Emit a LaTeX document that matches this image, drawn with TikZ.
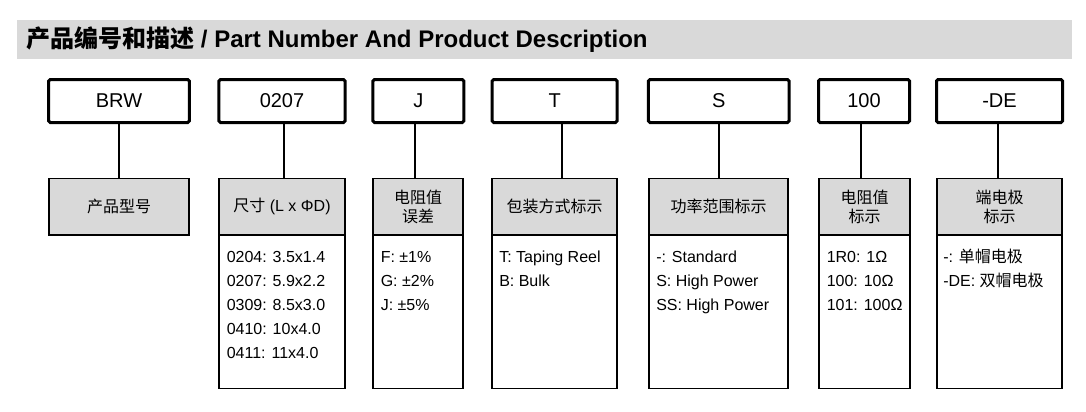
\documentclass[tikz,border=0pt]{standalone}
\usepackage{fontspec}
\setmainfont{Liberation Sans}
\newfontfamily\cjk{Noto Sans CJK SC}
\definecolor{boxgray}{HTML}{D9D9D9}
\begin{document}
\begin{tikzpicture}[x=0.75pt,y=-0.75pt,
  codebox/.style={draw=black,line width=2.25pt,rounded corners=1.2pt,minimum height=32.25pt,inner sep=0pt,font=\fontsize{15}{18}\selectfont},
  headbox/.style={draw=black,fill=boxgray,line width=1.4pt,minimum height=42.4pt,inner sep=0pt,align=center,font=\fontsize{12}{14}\selectfont},
  descbox/.style={draw=black,line width=1.4pt,minimum height=115.1pt,inner sep=0pt},
  desctext/.style={anchor=base west,inner sep=0pt,font=\fontsize{12}{18}\selectfont},
  link/.style={draw=black,line width=1.4pt}]
\useasboundingbox (0,0) rectangle (1086,411);
% header
\node[fill=boxgray,minimum width=791.25pt,minimum height=29.25pt,inner sep=0pt] (bar) at (544.5,39.5) {};
\node[anchor=base west,inner sep=0pt,font=\fontsize{18}{22}\selectfont\bfseries] (title) at (26,47) {{\cjk\bfseries 产品编号和描述} / Part Number And Product Description};
% top code boxes
\node[codebox,minimum width=105.5pt] (c1) at (119,101) {BRW};
\node[codebox,minimum width=94.65pt] (c2) at (282,101) {0207};
\node[codebox,minimum width=68.25pt] (c3) at (418.3,101) {J};
\node[codebox,minimum width=93.75pt] (c4) at (554.7,101) {T};
\node[codebox,minimum width=105.5pt] (c5) at (718.8,101) {S};
\node[codebox,minimum width=68.25pt] (c6) at (864,101) {100};
\node[codebox,minimum width=94.5pt] (c7) at (999.5,101) {-DE};
% gray heading boxes
\node[headbox,minimum width=105pt] (h1) at (119,206.75) {{\cjk 产品型号}};
\node[headbox,minimum width=94.5pt] (h2) at (282,206.75) {{\cjk 尺寸} (L x ΦD)};
\node[headbox,minimum width=67.5pt] (h3) at (418,206.75) {{\cjk 电阻值}\\{\cjk 误差}};
\node[headbox,minimum width=93.75pt] (h4) at (554.5,206.75) {{\cjk 包装方式标示}};
\node[headbox,minimum width=104.25pt] (h5) at (718.5,206.75) {{\cjk 功率范围标示}};
\node[headbox,minimum width=68.25pt] (h6) at (864.5,206.75) {{\cjk 电阻值}\\{\cjk 标示}};
\node[headbox,minimum width=93.75pt] (h7) at (999.5,206.75) {{\cjk 端电极}\\{\cjk 标示}};
% description boxes
\node[descbox,minimum width=94.5pt] (b2) at (282,311.75) {};
\node[descbox,minimum width=67.5pt] (b3) at (418,311.75) {};
\node[descbox,minimum width=93.75pt] (b4) at (554.5,311.75) {};
\node[descbox,minimum width=104.25pt] (b5) at (718.5,311.75) {};
\node[descbox,minimum width=68.25pt] (b6) at (864.5,311.75) {};
\node[descbox,minimum width=93.75pt] (b7) at (999.5,311.75) {};
% connectors
\coordinate (x1) at (119,0);
\coordinate (x2) at (284,0);
\coordinate (x3) at (414.7,0);
\coordinate (x4) at (561.7,0);
\coordinate (x5) at (719,0);
\coordinate (x6) at (861,0);
\coordinate (x7) at (998,0);
\foreach \i in {1,...,7}{
  \draw[link] (x\i |- c\i.south) -- (x\i |- h\i.north);
}
% description texts
\foreach \t [count=\k] in {0204: 3.5x1.4,0207: 5.9x2.2,0309: 8.5x3.0,0410: 10x4.0,0411: 11x4.0}
  \node[desctext] (t2-\k) at (226.5,262+24*\k-24) {\t};
\foreach \t [count=\k] in {F: ±1\%,G: ±2\%,J: ±5\%}
  \node[desctext] (t3-\k) at (380.5,262+24*\k-24) {\t};
\foreach \t [count=\k] in {T: Taping Reel,B: Bulk}
  \node[desctext] (t4-\k) at (499,262+24*\k-24) {\t};
\foreach \t [count=\k] in {-: Standard,S: High Power,SS: High Power}
  \node[desctext] (t5-\k) at (656,262+24*\k-24) {\t};
\foreach \t [count=\k] in {1R0: 1Ω,100: 10Ω,101: 100Ω}
  \node[desctext] (t6-\k) at (826.5,262+24*\k-24) {\t};
\node[desctext] (t7-1) at (943,262) {-: {\cjk 单帽电极}};
\node[desctext] (t7-2) at (943,286) {-DE: {\cjk 双帽电极}};
\end{tikzpicture}
\end{document}
